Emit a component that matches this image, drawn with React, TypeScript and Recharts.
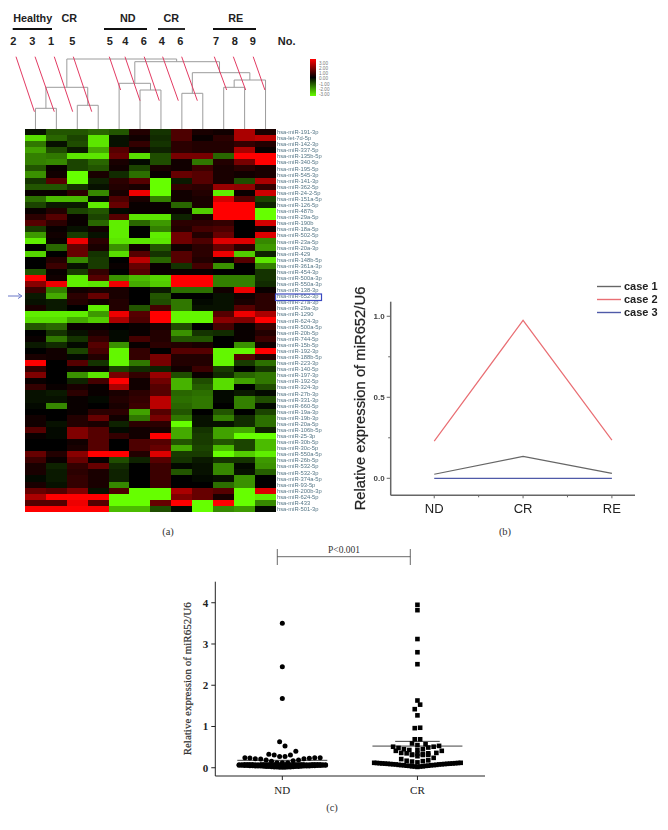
import React from "react";
import {
  ScatterChart, Scatter, XAxis, YAxis, LineChart, Line, Legend, ReferenceLine,
} from "recharts";

const rowLabels = [
  "191-3p","let-7d-5p","142-3p","337-5p","135b-5p","340-5p","195-5p","545-3p","141-3p","362-5p",
  "24-2-5p","151a-5p","126-5p","487b","29a-5p","190b","18a-5p","502-5p","23a-5p","20a-3p",
  "429","148b-5p","361a-3p","454-3p","500a-3p","550a-3p","138-3p","652-3p","27a-3p","29a-3p",
  "1290","624-3p","500a-5p","20b-5p","744-5p","15b-5p","192-3p","188b-5p","223-3p","140-5p",
  "197-3p","192-5p","324-3p","27b-3p","331-3p","660-5p","19a-3p","19b-3p","20a-5p","106b-5p",
  "25-3p","30b-5p","30c-5p","550a-5p","26b-5p","532-5p","532-3p","374a-5p","93-5p","200b-3p",
  "624-5p","433","501-3p",
].map((s) => (s.startsWith("let") ? "hsa-" + s : "hsa-miR-" + s));

const heatValues: number[][] = [
  [-0.2,-1,-1,-1.2,-1,0.4,-0.6,0.9,0.3,0.2,2,0.3],
  [-2.6,-1.2,-0.8,-2.7,-0.2,0.2,-0.5,0.9,0.1,0.5,2,2.2],
  [-1.4,-0.2,-0.9,-2.7,-0.2,0.6,-0.6,0.5,0.4,0.4,0.6,0.4],
  [-1.9,-0.9,-0.3,-2,1,0.2,-0.4,0.5,0.4,0.4,2,0.1],
  [-1.5,-1.4,-2.7,-2.7,1.2,-2.6,-0.9,1.4,1.4,-1.2,3,3],
  [-1.5,-1.6,-0.8,-1.2,0.3,-0.1,-0.9,0.2,-1.4,0.4,1.4,3],
  [-1,0.1,-0.8,-1,0.2,-0.8,0.3,0.2,0.7,0.3,0.5,0.3],
  [-1.7,0.2,-3,0.3,-0.5,-1.3,0.1,1.2,1,0.3,0.2,0.3],
  [-0.6,1,-3,-0.4,0.5,1,-3,-0.3,1,0.3,-0.9,2],
  [-1,-1,-0.6,-0.2,0.4,0.3,-3,0.6,0.5,1.8,1.7,0.6],
  [0.1,0.1,0.5,-1.6,0.3,2.8,-3,0.2,0.4,-2.8,0.1,2.4],
  [-1.3,-2.2,-2.2,-0.1,0.9,0.3,-1.5,0.2,0.3,2.5,1,-0.8],
  [-0.8,-0.3,-0.3,-2.8,1.2,0.1,0.1,-1.2,0.3,3,3,-0.4],
  [0.1,0.4,-0.8,-1,-0.1,0.1,0.1,0.1,-2.4,3,3,-3],
  [0.5,1,0.1,-0.8,1,-2.7,-2.7,-0.4,0.3,3,3,-3],
  [1,0.5,0.1,-1.2,-2.8,-1.2,-1.8,0.5,0.5,0.6,0,2.5],
  [-0.7,0.1,-0.2,0.2,-2.8,0,-1.5,0.4,0.8,0.9,0,0.2],
  [-1.8,0.2,-0.7,-0.2,-2.8,0,-2.8,1.3,0.4,1.2,0,2.6],
  [-2.8,0.1,2.8,0.5,-2.7,-2.7,-2.7,1.3,0.9,2.6,2.6,-1.6],
  [0,-1.2,1.2,0.3,-1.7,0.2,-1,0.2,0.5,1.2,0.5,-1.8],
  [-2.5,0,1.2,-0.6,-2.6,1,-0.6,1,0.5,2.8,-2.4,-0.4],
  [0,0.4,-1.6,-0.7,0,2.2,-1.2,1,0.4,0.1,1,-2.7],
  [0,0.7,-0.2,-0.7,0.1,1.2,0.1,-0.6,0.8,-1.7,0,-1.5],
  [-1,0.1,-0.7,0.6,0,1,0.1,0.1,0.1,0,0,-0.6],
  [3,0.2,-2.8,1,-1.7,-2.2,-2.5,3,3,-1.5,-1.5,-0.6],
  [1.6,2.8,-2.8,-2.7,2.8,-2,-2.4,3,3,-1.5,-1.5,-0.5],
  [0.7,-1.5,0.2,0.3,0.3,0,-0.3,-1.3,-1.3,0.2,2.8,0.1],
  [-0.3,-2,0.5,1.2,0.3,0,-1,0,0,-0.2,0.2,0.5],
  [-0.2,-0.3,0.4,0.2,0.4,0,-0.9,-1.4,-0.1,-0.2,0.3,0.5],
  [0.3,-0.3,0,-2.8,0.4,-1,0.8,-1.4,-0.2,-0.2,1,0.5],
  [-2.8,-2.8,-2.8,-1.8,2.8,1,3,-2.9,-2.9,1,2.8,2],
  [-2.6,-2.6,-2,-2.4,2,0.9,3,-2.9,-2.9,1.6,1.5,3],
  [-1,-1.2,0.1,0.1,0,0.1,0.3,-0.9,0,0.8,0.1,0.7],
  [0,-0.6,-0.2,0.3,-0.1,0.1,0.4,-1.7,-0.6,-0.5,0.1,0.4],
  [0.1,-1.4,-0.6,0.6,-0.1,0.8,0.4,-1,-1,0,0.1,0.7],
  [-0.3,-0.5,-0.1,1,-1.7,0.1,0.5,0.4,0.3,0,-1.7,0.2],
  [0,0.2,-0.8,0.8,-2.9,0.6,0,1,1,-2.9,-2.9,3],
  [0.3,0.2,-0.1,0.4,-2.9,0.6,1.4,0.4,0.4,-2.9,1,0.4],
  [3,0,1,-0.6,-2.9,-1.4,1.4,0.4,0.4,-2.9,-0.7,-1.3],
  [0.6,0,0.1,0.1,-0.8,-0.5,-0.4,0.2,0.7,-0.7,0,-0.6],
  [1.5,0,-1.7,-2.7,1.4,0.6,1.8,-0.9,0.1,-0.5,-1.2,-1.4],
  [0.1,0,-0.4,0.8,3,0.2,1.3,-2.1,-0.9,-2.6,-1.9,-1.4],
  [0.6,0.1,0.3,0.1,2,0.2,1,-2.1,-1.1,-2.6,0,-0.9],
  [-0.2,-0.3,0.5,0.1,0.3,0.5,1,-1.2,-1.3,-0.1,-0.3,-0.1],
  [-0.2,-0.2,0.1,-0.1,0.4,0.6,2.2,-1.3,-1.4,-0.1,-1.5,-0.9],
  [-0.1,-1.6,0.1,0,0.3,0.7,2.2,-1.2,-1.4,0,-1.5,-0.1],
  [0,0,0.1,0.5,0.5,-1.9,1,-1,0,-1,0,-0.8],
  [0.2,0,0.4,1.2,0.2,-1.4,1.4,-1.4,-0.2,-1.5,-0.5,-1.3],
  [0.2,-0.2,0.4,0.3,-0.4,0.5,0.5,-3,-0.2,-0.2,-0.5,-1.3],
  [1,-0.1,1.5,1,-0.1,0.2,0.3,-2,-0.6,-1.9,-2,-0.4],
  [0.1,-0.1,1.5,1,0.6,0.2,3,-2,-0.7,-1.9,-3,-3],
  [0,0,0.2,1,0,0.9,1,-1,-0.7,-1,-0.8,-2.2],
  [0,0,0.3,1,0,0.9,1.2,-2,-0.8,-2.2,-0.8,-2.2],
  [1.2,0.4,1.6,3,3,0.4,2.6,-0.7,-0.7,-3,-2.4,-2.8],
  [0.7,0.1,1.2,0.1,-0.9,-0.4,1,-0.6,-0.3,-0.6,-0.6,-1.8],
  [0.3,-0.4,0.6,1.2,-0.5,0,0.7,-0.1,-0.2,-1.6,-0.1,-1.7],
  [0.3,-0.3,0.5,0.3,-0.4,0,0.7,-1,-0.2,-1.6,-0.2,-1.1],
  [-0.1,-0.3,0.6,0.3,-0.4,0,0.7,0,-0.1,-0.2,-1.7,0],
  [0.3,-0.2,0.6,0.3,-1.6,0,0.7,0,0,-1.3,-1.7,0],
  [1.2,1,1.5,-0.2,0.9,-3,-3,2,1.2,1,-3,2.6],
  [2,3,3,3,-3,-3,-3,1.5,1.2,0.3,-3,-2.8],
  [1,1,2.8,1,-3,-3,1.2,3,-3,3,-3,-1.6],
  [3,3,3,3,-2.2,-2.2,-0.9,-0.1,-3,-1.6,-1.8,-0.1],
];

// tree links: [column1, height1, column2, height2]
const dendroLinks = [
  [0.5,0,0.5,20.7],[1.5,0,1.5,20.7],[0.5,20.7,1.5,20.7],
  [2.5,0,2.5,23.7],[3.5,0,3.5,23.7],[2.5,23.7,3.5,23.7],
  [1,20.7,1,41.7],[3,23.7,3,41.7],[1,41.7,3,41.7],
  [4.5,0,4.5,45.7],[5.5,0,5.5,39],[6.5,0,6.5,39],[5.5,39,6.5,39],[6,39,6,45.7],[4.5,45.7,6,45.7],
  [7.5,0,7.5,35.7],[8.5,0,8.5,35.7],[7.5,35.7,8.5,35.7],
  [9.5,0,9.5,41.7],[10.5,0,10.5,41.7],[9.5,41.7,10.5,41.7],[11.5,0,11.5,49],[10,41.7,10,49],[10,49,11.5,49],
  [8,35.7,8,56.3],[10.75,49,10.75,56.3],[8,56.3,10.75,56.3],
  [5.25,45.7,5.25,67.3],[9.3,56.3,9.3,67.3],[5.25,67.3,9.3,67.3],
  [2,41.7,2,70],[7.25,67.3,7.25,70],[2,70,7.25,70],
];
const redLinks = [
  [-0.43,72.3,0.45,17.3],[0.48,72.3,1.4,17.3],[1.4,72.3,2.28,17.3],[2.31,72.3,3.19,17.3],
  [4.03,72.3,4.57,39],[4.78,72.3,5.5,28.3],[5.7,72.3,6.42,28.3],[6.58,72.3,7.33,28.3],
  [7.49,72.3,8.24,28.3],[9.05,72.3,9.64,39],[9.96,72.3,10.55,39],[10.91,72.3,11.47,39],
];

const stages = ["ND", "CR", "RE"];
const case1 = [0.025, 0.135, 0.03];
const case2 = [0.23, 0.975, 0.235];
const case3 = [0, 0, 0];

const groupsC = ["ND", "CR"];
const ndOffsets = [0,0,0,-0.02,0.02,0.1,-0.1,-0.06,-0.02,0.02,0.06,-0.277,-0.24,-0.2,-0.16,-0.12,-0.08,-0.04,0,0.04,0.08,0.12,0.16,0.2,0.24,0.28,-0.04,0.04,0];
const ndValues = [3.5,2.45,1.68,0.63,0.53,0.4,0.33,0.31,0.27,0.27,0.31,0.24,0.235,0.22,0.21,0.19,0.16,0.12,0.12,0.12,0.17,0.19,0.22,0.23,0.24,0.24,0.09,0.09,0.07];
const bandOffsets = [-0.32,-0.3,-0.28,-0.26,-0.24,-0.22,-0.2,-0.18,-0.16,-0.14,-0.12,-0.1,-0.08,-0.06,-0.04,-0.02,0,0.02,0.04,0.06,0.08,0.1,0.12,0.14,0.16,0.18,0.2,0.22,0.24,0.26,0.28,0.3,0.32];
const ndBand = [0.06,0.06,0.055,0.055,0.05,0.05,0.045,0.04,0.04,0.035,0.03,0.03,0.025,0.02,0.02,0.015,0.01,0.015,0.02,0.02,0.025,0.03,0.03,0.035,0.04,0.04,0.045,0.05,0.05,0.055,0.055,0.06,0.06];
const ndBandUpper = [0.07,0.075,0.08,0.08,0.08,0.08,0.075,0.075,0.07,0.07,0.065,0.065,0.06,0.06,0.055,0.055,0.05,0.055,0.055,0.06,0.06,0.065,0.065,0.07,0.07,0.075,0.075,0.08,0.08,0.08,0.08,0.075,0.07];
const crBand = [0.12,0.115,0.11,0.105,0.1,0.095,0.09,0.085,0.08,0.07,0.065,0.06,0.05,0.045,0.035,0.03,0.02,0.03,0.035,0.045,0.05,0.06,0.065,0.07,0.08,0.085,0.09,0.095,0.1,0.105,0.11,0.115,0.12];
const crOffsets = [0,0,0,0,0,0,0.02,-0.02,0,-0.02,0.02,-0.02,0.02,-0.04,0,0.06,-0.18,-0.14,-0.1,-0.06,0,0.04,0.08,0.12,0.16,-0.16,-0.12,-0.08,-0.04,0,0.04,0.14,0.18,0.08,-0.04,0,0.04,0.08,-0.12,-0.08,-0.04,0,0.04,0.08,0.12];
const crValues = [3.95,3.82,3.12,2.8,2.51,1.63,1.53,1.42,1.27,0.96,0.97,0.69,0.69,0.59,0.55,0.57,0.51,0.48,0.45,0.43,0.43,0.45,0.49,0.51,0.53,0.41,0.36,0.35,0.32,0.34,0.33,0.36,0.41,0.35,0.31,0.28,0.31,0.31,0.21,0.17,0.15,0.13,0.16,0.18,0.24];

const statLines = [
  { g: 0, half: 0.333, v: 0.18 }, { g: 0, half: 0.165, v: 0.13 },
  { g: 1, half: 0.333, v: 0.525 }, { g: 1, half: 0.165, v: 0.64 },
];

const ndPoints = [
  ...ndOffsets.map((o, i) => ({ x: o, y: ndValues[i] })),
  ...bandOffsets.map((o, i) => ({ x: o, y: ndBand[i] })),
  ...bandOffsets.map((o, i) => ({ x: o, y: ndBandUpper[i] })),
];
const crPoints = [
  ...crOffsets.map((o, i) => ({ x: 1 + o, y: crValues[i] })),
  ...bandOffsets.map((o, i) => ({ x: 1 + o, y: crBand[i] })),
];
const heatCells = heatValues.flatMap((row, r) =>
  row.map((v, c) => ({ x: c + 0.5, y: r + 0.5, v }))
);
const lineData = stages.map((s, i) => ({ i, case1: case1[i], case2: case2[i], case3: case3[i] }));

const heatColor = (v: number) => {
  const t = Math.min(1, Math.abs(v) / 3);
  return v >= 0
    ? `rgb(${Math.round(255 * t)},0,0)`
    : `rgb(${Math.round(102 * t)},${Math.round(255 * t)},0)`;
};

const HeatCell = (p: any) => (
  <rect x={p.cx - 10.55} y={p.cy - 3.1} width={21.1} height={6.2} fill={heatColor(p.payload.v)} shapeRendering="crispEdges" />
);
const NoDot = () => <g />;
const Dot = (p: any) => <circle cx={p.cx} cy={p.cy} r={2.5} fill="#000" />;
const Sq = (p: any) => <rect x={p.cx - 2.3} y={p.cy - 2.3} width={4.6} height={4.6} fill="#000" />;

const SANS = "'Liberation Sans', Arial, sans-serif";
const SERIF = "'Liberation Serif', 'Times New Roman', serif";

const segment = (l: number[]) => [{ x: l[0], y: l[1] }, { x: l[2], y: l[3] }];

const BYTick = (p: any) => {
  const v = p.payload.value;
  const major = Math.abs(v * 2 - Math.round(v * 2)) < 1e-6;
  return (
    <g>
      <line x1={p.x} x2={p.x - (major ? 4 : 2.5)} y1={p.y} y2={p.y} stroke="#666" strokeWidth={1} />
      {major && (
        <text x={p.x - 6} y={p.y + 3} textAnchor="end" fontSize={8} fontWeight={700} fill="#444" fontFamily={SANS}>
          {v.toFixed(1)}
        </text>
      )}
    </g>
  );
};
const BXTick = (p: any) => {
  const v = p.payload.value;
  const major = Number.isInteger(v);
  return (
    <g>
      <line x1={p.x} x2={p.x} y1={p.y} y2={p.y + (major ? 3 : 2)} stroke="#666" strokeWidth={1} />
      {major && (
        <text x={p.x} y={p.y + 18} textAnchor="middle" fontSize={13} fill="#222" fontFamily={SANS}>
          {stages[v]}
        </text>
      )}
    </g>
  );
};

const LegendRows = (p: any) => (
  <div>
    {(p.payload || []).map((e: any, i: number) => (
      <div key={i} style={{ display: "flex", alignItems: "center", height: 13 }}>
        <svg width={24} height={3} style={{ marginRight: 3 }}>
          <line x1={0} x2={24} y1={1.5} y2={1.5} stroke={e.color} strokeWidth={1.4} />
        </svg>
        <span style={{ color: "#222", fontWeight: 700, fontSize: 11, fontFamily: SANS }}>{e.value}</span>
      </div>
    ))}
  </div>
);

const headers = [
  { t: "Healthy", x: 32.7 }, { t: "CR", x: 69.3 }, { t: "ND", x: 127.7 }, { t: "CR", x: 171.3 }, { t: "RE", x: 235.7 },
];
const bars = [[12.7, 52], [104, 147], [158, 185], [213, 256]];
const numbers = [
  ["2", 13.3], ["3", 32.3], ["1", 51], ["5", 72.3], ["5", 109.7], ["4", 125.3], ["6", 143.7],
  ["4", 161.7], ["6", 180.3], ["7", 216], ["8", 234.7], ["9", 252.7], ["No.", 286.7],
];
const scaleLabels = ["3.00", "2.00", "1.00", "0.00", "-1.00", "-2.00", "-3.00"];

export default function App() {
  return (
    <div style={{ position: "absolute", left: 0, top: 0, width: 668, height: 830, background: "#fff", overflow: "hidden" }}>
      <div style={{ position: "absolute", left: 0, top: 0, filter: "blur(0.45px)" }}>
        <ScatterChart width={340} height={129} margin={{ top: 0, right: 0, bottom: 0, left: 0 }}>
          <XAxis hide type="number" dataKey="x" domain={[-1.195, 15.06]} allowDataOverflow />
          <YAxis hide type="number" dataKey="y" domain={[0, 129]} width={0} allowDataOverflow />
          {dendroLinks.map((l, i) => (
            <Scatter key={"d" + i} data={segment(l)} line={{ stroke: "#9c9c9c", strokeWidth: 1 }} shape={NoDot} isAnimationActive={false} />
          ))}
          {redLinks.map((l, i) => (
            <Scatter key={"r" + i} data={segment(l)} line={{ stroke: "#e23a62", strokeWidth: 1 }} shape={NoDot} isAnimationActive={false} />
          ))}
        </ScatterChart>
      </div>

      <div style={{ position: "absolute", left: 0, top: 120, filter: "blur(0.45px)" }}>
        <ScatterChart width={340} height={400} margin={{ top: 9, right: 4, bottom: 8, left: 25 }}>
          <XAxis hide type="number" dataKey="x" domain={[0, 12]} />
          <YAxis
            orientation="right" type="number" dataKey="y" reversed domain={[0, 63]} width={60}
            ticks={rowLabels.map((_, i) => i + 0.5)} interval={0}
            tickFormatter={(v: number) => rowLabels[Math.floor(v)]}
            axisLine={false} tickLine={false} tickSize={0} tickMargin={1}
            tick={{ fontSize: 5.8, fill: "#557686", fontFamily: SANS }}
          />
          <Scatter data={heatCells} shape={HeatCell} isAnimationActive={false} />
        </ScatterChart>
      </div>

      <div style={{ position: "absolute", left: 340, top: 270, filter: "blur(0.35px)" }}>
        <LineChart width={328} height={260} data={lineData} margin={{ top: 31.7, right: 33, bottom: 4.7, left: 20.7 }}>
          <XAxis
            type="number" dataKey="i" domain={[-0.49, 2.26]} ticks={[0, 0.5, 1, 1.5, 2]} interval={0}
            height={30} stroke="#666" strokeWidth={1.5} tickLine={false} tickSize={0} tickMargin={0} tick={BXTick}
          />
          <YAxis
            type="number" domain={[-0.105, 1.09]} ticks={[0, 0.25, 0.5, 0.75, 1]} interval={0} width={30}
            stroke="#666" strokeWidth={1.5} tickLine={false} tickSize={0} tickMargin={0} tick={BYTick} allowDataOverflow
            label={{ value: "Relative expression of miR652/U6", angle: -90, position: "insideLeft", dx: -5.7, style: { textAnchor: "middle", fontSize: 14.8, fill: "#222", stroke: "#222", strokeWidth: 0.25, fontFamily: SANS } }}
          />
          <Legend
            layout="vertical" align="center" verticalAlign="middle" content={LegendRows}
            wrapperStyle={{ position: "absolute", left: 257, top: 9.5, width: 70, height: 39 }}
          />
          <Line name="case 1" dataKey="case1" stroke="#666666" strokeWidth={1.2} dot={false} isAnimationActive={false} />
          <Line name="case 2" dataKey="case2" stroke="#e96f74" strokeWidth={1.2} dot={false} isAnimationActive={false} />
          <Line name="case 3" dataKey="case3" stroke="#4f5aa8" strokeWidth={1.2} dot={false} isAnimationActive={false} />
        </LineChart>
      </div>

      <div style={{ position: "absolute", left: 170, top: 540 }}>
        <ScatterChart width={340} height={270} margin={{ top: 41.7, right: 25, bottom: 4, left: 15.3 }}>
          <XAxis
            type="number" dataKey="x" domain={[-0.496, 1.5]} ticks={[0, 1]} interval={0} height={30}
            tickFormatter={(v: number) => groupsC[v]} stroke="#222" tickSize={4} tickMargin={6}
            tick={{ fontSize: 11, fill: "#222", fontFamily: SERIF }}
          />
          <YAxis
            type="number" dataKey="y" domain={[-0.2, 4.51]} ticks={[0, 1, 2, 3, 4]} interval={0} width={30}
            stroke="#222" tickSize={4} tickMargin={3} allowDataOverflow
            tick={{ fontSize: 11, fontWeight: 700, fill: "#222", fontFamily: SERIF }}
            label={{ value: "Relative expression of miR652/U6", angle: -90, position: "insideLeft", dx: -3, style: { textAnchor: "middle", fontSize: 11, fill: "#333", stroke: "#333", strokeWidth: 0.2, fontFamily: SERIF } }}
          />
          {statLines.map((s, i) => (
            <ReferenceLine key={i} segment={[{ x: s.g - s.half, y: s.v }, { x: s.g + s.half, y: s.v }]} stroke="#111" strokeWidth={0.8} />
          ))}
          <Scatter data={ndPoints} shape={Dot} isAnimationActive={false} />
          <Scatter data={crPoints} shape={Sq} isAnimationActive={false} />
        </ScatterChart>
      </div>

      <svg width={668} height={830} style={{ position: "absolute", left: 0, top: 0, pointerEvents: "none" }}>
        <defs>
          <linearGradient id="scale" x1="0" y1="0" x2="0" y2="1">
            <stop offset="0" stopColor="#ff0000" />
            <stop offset="0.5" stopColor="#000" />
            <stop offset="1" stopColor="#66ff00" />
          </linearGradient>
        </defs>
        {headers.map((h, i) => (
          <text key={i} x={h.x} y={22} textAnchor="middle" fontSize={10.8} fontWeight={700} fill="#222" fontFamily={SANS}>{h.t}</text>
        ))}
        {bars.map((b, i) => (
          <line key={i} x1={b[0]} x2={b[1]} y1={29} y2={29} stroke="#111" strokeWidth={1.8} />
        ))}
        {numbers.map((n, i) => (
          <text key={i} x={n[1] as number} y={45} textAnchor="middle" fontSize={11} fontWeight={700} fill="#222" fontFamily={SANS}>{n[0]}</text>
        ))}
        <rect x={310} y={59} width={6} height={37} fill="url(#scale)" />
        {scaleLabels.map((s, i) => (
          <text key={i} x={319} y={64.5 + i * 5.3} fontSize={4.6} fill="#777" fontFamily={SANS}>{s}</text>
        ))}
        <line x1={8} x2={21} y1={296} y2={296} stroke="#6a78c8" strokeWidth={1} />
        <path d="M18 293.5 L22 296 L18 298.5" fill="none" stroke="#6a78c8" strokeWidth={1} />
        <rect x={275.5} y={294} width={46} height={6.5} fill="none" stroke="#3a49c0" strokeWidth={1.2} />
        <text x={168} y={534.5} textAnchor="middle" fontSize={10.5} fill="#333" fontFamily={SERIF}>(a)</text>
        <text x={505} y={534.5} textAnchor="middle" fontSize={10.5} fill="#333" fontFamily={SERIF}>(b)</text>
        <text x={332} y={811} textAnchor="middle" fontSize={10.5} fill="#333" fontFamily={SERIF}>(c)</text>
        <text x={344} y={553} textAnchor="middle" fontSize={9.5} fill="#333" fontFamily={SERIF}>P&lt;0.001</text>
        <line x1={277.3} x2={410.3} y1={556.7} y2={556.7} stroke="#444" strokeWidth={0.8} />
        <line x1={277.3} x2={277.3} y1={549} y2={565} stroke="#444" strokeWidth={0.8} />
        <line x1={410.3} x2={410.3} y1={549} y2={565} stroke="#444" strokeWidth={0.8} />
      </svg>
    </div>
  );
}
